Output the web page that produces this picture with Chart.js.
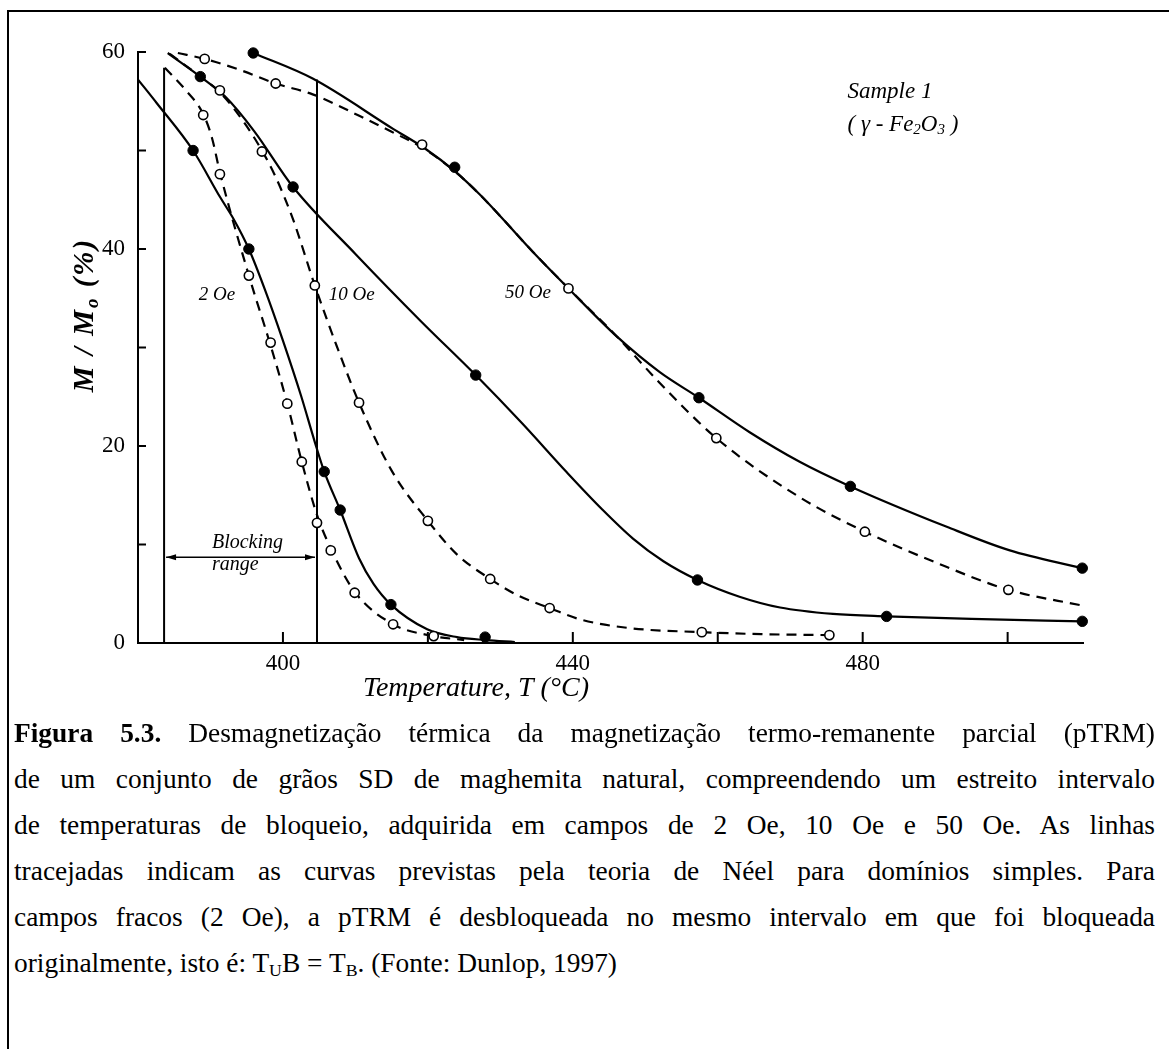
<!DOCTYPE html>
<html><head><meta charset="utf-8">
<script src="https://cdn.jsdelivr.net/npm/chart.js@4.4.0/dist/chart.umd.min.js"></script>
<style>
html,body{margin:0;padding:0;background:#fff;width:1169px;height:1049px;overflow:hidden;position:relative;}
#frame{position:absolute;left:7px;top:10px;width:1300px;height:1200px;border-left:2px solid #000;border-top:2px solid #000;}
#wrap{position:absolute;left:0;top:0;width:1169px;height:720px;}
.cap{position:absolute;white-space:nowrap;font-family:"Liberation Serif","Times New Roman",serif;color:#000;transform-origin:0 50%;}
.cap sub{font-size:65%;vertical-align:-0.25em;line-height:0;}
</style></head>
<body>
<div id="frame"></div>
<div id="wrap"><canvas id="c" width="1169" height="720"></canvas></div>
<div id="caption"></div>
<script>
// ---------- data ----------
const yTicks=[0,10,20,30,40,50,60];
const yTickLabels=[0,20,40,60];
const xTicks=[400,420,440,460,480,500];
const xTickLabels=[400,440,480];

// 2 Oe
const t2Solid=[380,382.6,387.6,391.3,393.3,395.3,397.5,400,402.5,404.4,405.7,407.9,410.5,412.5,414.9,419.9,424,428,432];
const m2Solid=[57.2,54.8,50.0,45.3,42.9,40.0,35.9,30.7,25.1,20.4,17.4,13.5,8.6,6.0,3.9,1.4,0.6,0.3,0.1];
const t2Dash=[383.7,386.5,389.0,390.2,391.3,395.3,398.3,400.6,402.6,404.7,406.6,409.9,415.2,420.8,425];
const m2Dash=[58.4,56.2,53.7,51.3,47.8,37.3,30.2,24.3,18.4,13.0,9.6,5.2,1.9,0.7,0.3];
const t2Filled=[387.6,395.3,405.7,407.9,414.9,427.9];
const m2Filled=[50.0,40.0,17.4,13.5,3.9,0.6];
const t2Open=[389.0,391.3,395.3,398.3,400.6,402.6,404.7,406.6,409.9,415.2,420.8];
const m2Open=[53.6,47.6,37.3,30.5,24.3,18.4,12.2,9.4,5.1,1.9,0.7];

// 10 Oe
const t10Solid=[384.1,388.6,392,396,401.4,410,419,426.6,433,439.2,444,448.3,452.5,457.2,463,468.6,475.9,483.3,495,510.3];
const m10Solid=[59.9,57.5,55.5,52.0,46.3,39.5,32.7,27.2,22.3,17.3,13.6,10.6,8.3,6.4,4.7,3.6,2.95,2.7,2.45,2.2];
const t10Dash=[384.4,388.6,391.3,394.5,397.1,399,401.4,404.4,407.5,410.5,415,420,424,428.6,432.5,436.8,441,448,457.8,466,475.4];
const m10Dash=[59.8,57.5,55.9,53.0,50.0,47.3,43.0,36.3,30.0,24.4,17.5,12.4,9.0,6.5,4.8,3.55,2.4,1.5,1.1,0.9,0.8];
const t10Filled=[388.6,401.4,426.6,457.2,483.3,510.3];
const m10Filled=[57.5,46.3,27.2,6.4,2.7,2.2];
const t10Open=[391.3,397.1,404.4,410.5,420.0,428.6,436.8,457.8,475.4];
const m10Open=[56.1,49.9,36.3,24.4,12.4,6.5,3.55,1.1,0.8];

// 50 Oe
const t50Solid=[395.9,404.1,415.2,419.6,423.7,427.2,429.9,434.5,439.4,446.1,452.0,457.4,464.4,471.3,478.3,491.6,500.3,510.3];
const m50Solid=[59.9,57.3,52.2,50.2,47.9,45.5,43.4,39.7,36.0,31.1,27.5,24.9,21.4,18.4,15.9,11.8,9.4,7.6];
const t50Dash=[385.5,389.2,394,399.0,404.1,410.6,415,419.2,423.7,427.2,429.9,434.5,439.4,446.1,452,459.8,471.3,480.3,490,500.1,510.3];
const m50Dash=[59.9,59.3,58.2,56.8,55.7,53.5,51.9,50.3,47.9,45.5,43.4,39.7,36.0,31.1,26.4,20.8,14.8,11.3,8.2,5.4,3.8];
const t50Filled=[395.9,423.7,457.4,478.3,510.3];
const m50Filled=[59.9,48.3,24.9,15.9,7.6];
const t50Open=[389.2,399.0,419.2,439.4,459.8,480.3,500.1];
const m50Open=[59.3,56.8,50.6,36.0,20.8,11.3,5.4];

// blocking range
const blockT=[383.6,404.7];
const blockTop=[58.4,57.2];
const blockArrowM=8.7;

// caption
const captionLines=[
 '<b>Figura 5.3.</b> Desmagnetização térmica da magnetização termo-remanente parcial (pTRM)',
 'de um conjunto de grãos SD de maghemita natural, compreendendo um estreito intervalo',
 'de temperaturas de bloqueio, adquirida em campos de 2 Oe, 10 Oe e 50 Oe. As linhas',
 'tracejadas indicam as curvas previstas pela teoria de Néel para domínios simples. Para',
 'campos fracos (2 Oe), a pTRM é desbloqueada no mesmo intervalo em que foi bloqueada',
 'originalmente, isto é: T<sub>U</sub>B = T<sub>B</sub>. (Fonte: Dunlop, 1997)'
];

// ---------- helpers ----------
const zip=(t,m)=>t.map((v,i)=>({x:v,y:m[i]}));
const SERIF='"Liberation Serif","Times New Roman",serif';
function curve(t,m,dashed){
  return {type:'scatter',data:zip(t,m),showLine:true,borderColor:'#000',borderWidth:2.2,
    borderDash:dashed?[10,7]:[],pointRadius:0,cubicInterpolationMode:'monotone',clip:false,order:2};
}
function marks(t,m,filled){
  return {type:'scatter',data:zip(t,m),showLine:false,pointRadius:filled?5.2:4.6,
    pointBackgroundColor:filled?'#000':'#fff',pointBorderColor:'#000',pointBorderWidth:filled?1:1.6,clip:false,order:0};
}
function vline(t,top){
  return {type:'scatter',data:[{x:t,y:0},{x:t,y:top}],showLine:true,borderColor:'#000',borderWidth:2,pointRadius:0,clip:false,order:1};
}
function rich(ctx,parts,x,y,align){
  let w=0;
  parts.forEach(p=>{ctx.font=p.font;w+=ctx.measureText(p.t).width;});
  let cx=align==='center'?x-w/2:x;
  parts.forEach(p=>{ctx.font=p.font;ctx.fillText(p.t,cx,y+(p.dy||0));cx+=ctx.measureText(p.t).width;});
}

const annot={
  id:'annot',
  afterDatasetsDraw(chart){
    const ctx=chart.ctx, xs=chart.scales.x, ys=chart.scales.y;
    const X=v=>xs.getPixelForValue(v), Y=v=>ys.getPixelForValue(v);
    ctx.save();
    ctx.strokeStyle='#000';ctx.fillStyle='#000';ctx.lineWidth=2;
    // inward tick marks
    xTicks.forEach(v=>{ctx.beginPath();ctx.moveTo(X(v),Y(0));ctx.lineTo(X(v),Y(0)-11);ctx.stroke();});
    yTicks.forEach(v=>{ctx.beginPath();ctx.moveTo(X(380),Y(v));ctx.lineTo(X(380)+8,Y(v));ctx.stroke();});
    // blocking range arrow
    const ay=Y(blockArrowM), ax1=X(blockT[0])+2, ax2=X(blockT[1])-2;
    ctx.lineWidth=1.5;
    ctx.beginPath();ctx.moveTo(ax1,ay);ctx.lineTo(ax2,ay);ctx.stroke();
    ctx.beginPath();ctx.moveTo(ax1,ay);ctx.lineTo(ax1+10,ay-3);ctx.lineTo(ax1+10,ay+3);ctx.closePath();ctx.fill();
    ctx.beginPath();ctx.moveTo(ax2,ay);ctx.lineTo(ax2-10,ay-3);ctx.lineTo(ax2-10,ay+3);ctx.closePath();ctx.fill();
    // text
    ctx.textBaseline='middle';
    const it=s=>'italic '+s+'px '+SERIF;
    ctx.textAlign='left';
    ctx.font=it(20);
    ctx.fillText('Blocking',X(390.2),Y(10.2));
    ctx.fillText('range',X(390.2),Y(7.9));
    ctx.textAlign='center';
    ctx.font=it(19);
    ctx.fillText('2 Oe',X(390.9),Y(35.3));
    ctx.fillText('10 Oe',X(409.5),Y(35.3));
    ctx.fillText('50 Oe',X(433.8),Y(35.5));
    ctx.textAlign='left';
    ctx.font=it(23);
    ctx.fillText('Sample 1',X(477.9),Y(55.9));
    rich(ctx,[{t:'( γ - Fe',font:it(23)},{t:'2',font:it(15),dy:5},{t:'O',font:it(23)},{t:'3',font:it(15),dy:5},{t:' )',font:it(23)}],X(477.9),Y(52.6),'left');
    // axis titles
    rich(ctx,[{t:'Temperature, T (°C)',font:it(28)}],476,689,'center');
    ctx.translate(86,315);ctx.rotate(-Math.PI/2);
    const bi=s=>'italic bold '+s+'px '+SERIF;
    if('letterSpacing' in ctx) ctx.letterSpacing='2px';
    rich(ctx,[{t:'M / M',font:bi(29)},{t:'o',font:bi(19),dy:7},{t:' (%)',font:bi(29)}],0,0,'center');
    ctx.restore();
  }
};

const datasets=[
  marks(t2Filled,m2Filled,true),marks(t2Open,m2Open,false),
  marks(t10Filled,m10Filled,true),marks(t10Open,m10Open,false),
  marks(t50Filled,m50Filled,true),marks(t50Open,m50Open,false),
  vline(blockT[0],blockTop[0]),vline(blockT[1],blockTop[1]),
  curve(t2Solid,m2Solid,false),curve(t2Dash,m2Dash,true),
  curve(t10Solid,m10Solid,false),curve(t10Dash,m10Dash,true),
  curve(t50Solid,m50Solid,false),curve(t50Dash,m50Dash,true)
];

new Chart(document.getElementById('c'),{
  type:'scatter',
  data:{datasets},
  options:{
    responsive:false,animation:false,devicePixelRatio:1,
    layout:{padding:{left:0,right:86,top:52,bottom:0}},
    plugins:{legend:{display:false},tooltip:{enabled:false}},
    scales:{
      x:{type:'linear',min:380,max:510.4,
        afterFit:s=>{s.height=77;},
        afterBuildTicks:s=>{s.ticks=xTicks.map(v=>({value:v}));},
        grid:{display:false,drawTicks:false},
        border:{display:true,color:'#000',width:2},
        ticks:{padding:7,color:'#000',font:{family:SERIF,size:23},autoSkip:false,maxRotation:0,
          callback:v=>xTickLabels.includes(v)?String(v):''}
      },
      y:{type:'linear',min:0,max:60,
        afterFit:s=>{s.width=138;},
        afterBuildTicks:s=>{s.ticks=yTicks.map(v=>({value:v}));},
        grid:{display:false,drawTicks:false},
        border:{display:true,color:'#000',width:2},
        ticks:{padding:13,color:'#000',font:{family:SERIF,size:23},autoSkip:false,
          callback:v=>yTickLabels.includes(v)?String(v):''}
      }
    }
  },
  plugins:[annot]
});

// ---------- caption ----------
(function(){
  const CAP_LEFT=14, CAP_W=1141, CAP_Y0=733, CAP_STEP=46, CAP_FS=27, LAST_W=603;
  const host=document.getElementById('caption');
  const els=captionLines.map((h,i)=>{
    const d=document.createElement('div');d.className='cap';d.innerHTML=h;
    d.style.fontSize=CAP_FS+'px';d.style.lineHeight='32px';d.style.left=CAP_LEFT+'px';
    d.style.top=(CAP_Y0+i*CAP_STEP-16)+'px';
    host.appendChild(d);return d;
  });
  const last=els[els.length-1];
  const sx=LAST_W/last.getBoundingClientRect().width;
  const target=CAP_W/sx;
  els.forEach((d,i)=>{
    if(i<els.length-1){
      const w=d.getBoundingClientRect().width;
      const n=(d.textContent.match(/ /g)||[]).length;
      d.style.wordSpacing=((target-w)/n)+'px';
    }
    d.style.transform='scaleX('+sx+')';
  });
})();
</script>
</body></html>
